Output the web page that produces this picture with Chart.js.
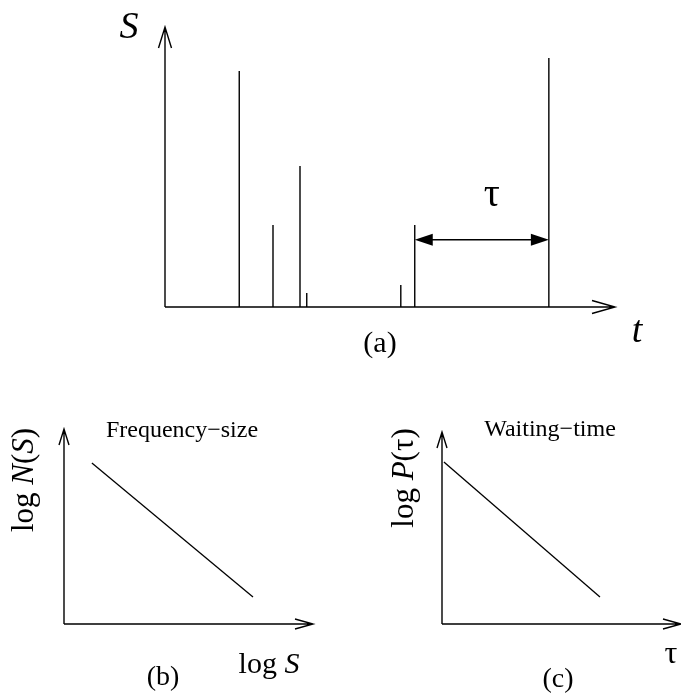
<!DOCTYPE html>
<html lang="en">
<head>
    <meta charset="UTF-8">
    <title>Event sizes, frequency-size and waiting-time sketch</title>
    <script src="https://cdn.jsdelivr.net/npm/chart.js"></script>
    <style>
        body {
            margin: 0;
            background: #fff;
        }
        .stage {
            position: relative;
            width: 681px;
            height: 699px;
        }
        .stage canvas {
            position: absolute;
            left: 0;
            top: 0;
        }
    </style>
</head>
<body>
    <div class="stage">
        <canvas id="panelA" width="681" height="699"></canvas>
        <canvas id="panelB" width="681" height="699"></canvas>
        <canvas id="panelC" width="681" height="699"></canvas>
    </div>

    <script>
        // --- data (arbitrary units, axes run 0..100) ---
        const eventTimes = [16.5, 24, 30, 31.5, 52.4, 55.5, 85.3];
        const eventSizes = [84.3, 29.3, 50.4, 5, 7.9, 29.3, 88.9];
        const tauFrom = 5;      // index of event where tau starts
        const tauTo = 6;        // index of event where tau ends
        const tauLevel = 24;    // height of the tau arrow

        const freqSizeX = [11.2, 75.9];
        const freqSizeY = [82.6, 13.8];
        const waitTimeX = [0.8, 66.1];
        const waitTimeY = [84.4, 14.1];

        const SERIF = '"Liberation Serif", "Times New Roman", serif';
        const INK = '#000';

        // --- drawing helpers ---
        function openArrow(ctx, x1, y1, x2, y2, len, half) {
            const a = Math.atan2(y2 - y1, x2 - x1);
            ctx.beginPath();
            ctx.moveTo(x1, y1);
            ctx.lineTo(x2, y2);
            ctx.moveTo(x2 - len * Math.cos(a) + half * Math.sin(a), y2 - len * Math.sin(a) - half * Math.cos(a));
            ctx.lineTo(x2, y2);
            ctx.lineTo(x2 - len * Math.cos(a) - half * Math.sin(a), y2 - len * Math.sin(a) + half * Math.cos(a));
            ctx.stroke();
        }

        function filledHead(ctx, x, y, dir, len, half) {
            ctx.beginPath();
            ctx.moveTo(x, y);
            ctx.lineTo(x - dir * len, y - half);
            ctx.lineTo(x - dir * len, y + half);
            ctx.closePath();
            ctx.fill();
        }

        // parts: [[text, italic], ...] drawn centred at x on baseline y
        function richText(ctx, parts, x, y, size) {
            const fonts = parts.map(p => (p[1] ? 'italic ' : '') + size + 'px ' + SERIF);
            let total = 0;
            parts.forEach((p, i) => { ctx.font = fonts[i]; total += ctx.measureText(p[0]).width; });
            let cx = x - total / 2;
            ctx.textAlign = 'left';
            ctx.textBaseline = 'alphabetic';
            parts.forEach((p, i) => {
                ctx.font = fonts[i];
                ctx.fillText(p[0], cx, y);
                cx += ctx.measureText(p[0]).width;
            });
        }

        function axesPlugin(opts) {
            return {
                id: 'sketchAxes',
                afterDraw(chart) {
                    const ctx = chart.ctx;
                    const area = chart.chartArea;
                    ctx.save();
                    ctx.strokeStyle = INK;
                    ctx.fillStyle = INK;
                    ctx.lineWidth = 1.4;
                    openArrow(ctx, area.left, area.bottom, area.left, area.top, opts.headLen, opts.headHalf);
                    openArrow(ctx, area.left, area.bottom, area.right, area.bottom, opts.headLen + 2, opts.headHalf);
                    if (opts.extra) opts.extra(chart, ctx);
                    ctx.restore();
                }
            };
        }

        function baseOptions(padding, xMax) {
            return {
                responsive: false,
                animation: false,
                devicePixelRatio: 1,
                layout: { padding: padding },
                plugins: { legend: { display: false }, tooltip: { enabled: false } },
                scales: {
                    x: { type: 'linear', min: 0, max: xMax, display: false },
                    y: { type: 'linear', min: 0, max: 100, display: false }
                },
                elements: { point: { radius: 0 } }
            };
        }

        // --- panel (a): event time series ---
        const spikePoints = [];
        eventTimes.forEach((t, i) => {
            spikePoints.push({ x: t, y: 0 }, { x: t, y: eventSizes[i] }, { x: t, y: null });
        });

        new Chart(document.getElementById('panelA'), {
            type: 'scatter',
            data: {
                datasets: [{
                    data: spikePoints,
                    showLine: true,
                    spanGaps: false,
                    borderColor: INK,
                    borderWidth: 1.4,
                    clip: false
                }]
            },
            options: baseOptions({ left: 165, right: 66, top: 27, bottom: 392 }, 100),
            plugins: [axesPlugin({
                headLen: 21, headHalf: 6.5,
                extra(chart, ctx) {
                    const xs = chart.scales.x, ys = chart.scales.y;
                    const x1 = xs.getPixelForValue(eventTimes[tauFrom]);
                    const x2 = xs.getPixelForValue(eventTimes[tauTo]);
                    const yy = ys.getPixelForValue(tauLevel);
                    ctx.beginPath();
                    ctx.moveTo(x1 + 10, yy);
                    ctx.lineTo(x2 - 10, yy);
                    ctx.stroke();
                    filledHead(ctx, x1, yy, -1, 18, 6);
                    filledHead(ctx, x2, yy, 1, 18, 6);

                    ctx.textAlign = 'center';
                    ctx.textBaseline = 'alphabetic';
                    ctx.font = '40px ' + SERIF;
                    ctx.fillText('τ', (x1 + x2) / 2 + 10, 206);
                    ctx.font = 'italic 38px ' + SERIF;
                    ctx.fillText('S', 129, 38);
                    ctx.fillText('t', 637, 342);
                    ctx.font = '30px ' + SERIF;
                    ctx.fillText('(a)', 380, 352);
                }
            })]
        });

        // --- panel (b): frequency-size ---
        new Chart(document.getElementById('panelB'), {
            type: 'scatter',
            data: {
                datasets: [{
                    data: freqSizeX.map((x, i) => ({ x: x, y: freqSizeY[i] })),
                    showLine: true,
                    borderColor: INK,
                    borderWidth: 1.3,
                    clip: false
                }]
            },
            options: baseOptions({ left: 64, right: 681 - 313, top: 429, bottom: 699 - 624 }, 100),
            plugins: [axesPlugin({
                headLen: 16, headHalf: 5,
                extra(chart, ctx) {
                    ctx.textAlign = 'center';
                    ctx.textBaseline = 'alphabetic';
                    ctx.font = '24px ' + SERIF;
                    ctx.fillText('Frequency\u2212size', 182, 437);
                    richText(ctx, [['log ', false], ['S', true]], 269, 673, 30);
                    ctx.font = '28px ' + SERIF;
                    ctx.textAlign = 'center';
                    ctx.fillText('(b)', 163, 685);
                    ctx.save();
                    ctx.translate(33, 480);
                    ctx.rotate(-Math.PI / 2);
                    richText(ctx, [['log ', false], ['N', true], ['(', false], ['S', true], [')', false]], 0, 0, 31);
                    ctx.restore();
                }
            })]
        });

        // --- panel (c): waiting-time ---
        new Chart(document.getElementById('panelC'), {
            type: 'scatter',
            data: {
                datasets: [{
                    data: waitTimeX.map((x, i) => ({ x: x, y: waitTimeY[i] })),
                    showLine: true,
                    borderColor: INK,
                    borderWidth: 1.3,
                    clip: false
                }]
            },
            options: baseOptions({ left: 442, right: -8, top: 432, bottom: 699 - 624 }, 100),
            plugins: [axesPlugin({
                headLen: 16, headHalf: 5,
                extra(chart, ctx) {
                    ctx.textAlign = 'center';
                    ctx.textBaseline = 'alphabetic';
                    ctx.font = '24px ' + SERIF;
                    ctx.fillText('Waiting\u2212time', 550, 436);
                    ctx.font = '32px ' + SERIF;
                    ctx.fillText('τ', 671, 663);
                    ctx.font = '28px ' + SERIF;
                    ctx.fillText('(c)', 558, 687);
                    ctx.save();
                    ctx.translate(413, 478);
                    ctx.rotate(-Math.PI / 2);
                    richText(ctx, [['log ', false], ['P', true], ['(\u03c4)', false]], 0, 0, 31);
                    ctx.restore();
                }
            })]
        });
    </script>
</body>
</html>
